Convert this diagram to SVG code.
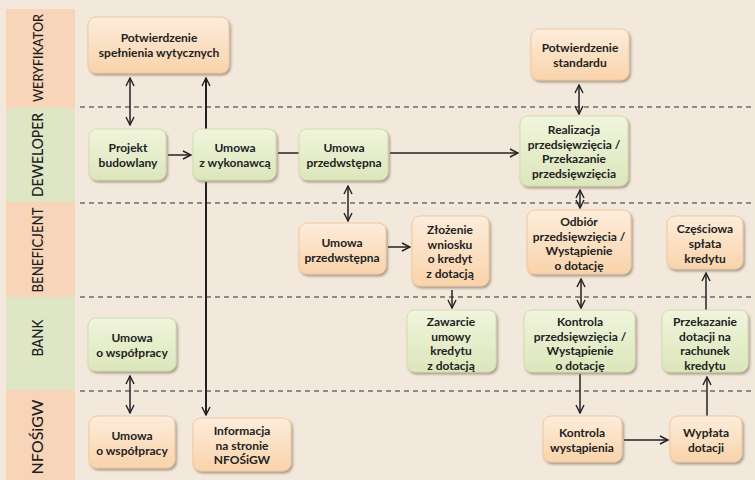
<svg xmlns="http://www.w3.org/2000/svg" width="755" height="480" viewBox="0 0 755 480">
<style>
.lane{font-family:Lato,"Liberation Sans",sans-serif;font-weight:500;font-size:15px;fill:#1e1e1e;text-anchor:middle}
.t{font-family:Lato,"Liberation Sans",sans-serif;font-weight:bold;font-size:12px;fill:#222;text-anchor:middle}
.p{fill:url(#gp);stroke:#efc9a3;stroke-width:1;filter:url(#sh)}
.g{fill:url(#gg);stroke:#d3ddb0;stroke-width:1;filter:url(#sh)}
.dash{stroke:#2a2a2a;stroke-width:1.2;stroke-dasharray:5 4;fill:none}
.c{stroke:#222;stroke-width:1.5;fill:none}
.a{marker-end:url(#ah)}
.d{marker-start:url(#ah);marker-end:url(#ah)}
</style>
<defs>
<linearGradient id="gp" x1="0" y1="0" x2="0" y2="1"><stop offset="0" stop-color="#fdeddb"/><stop offset="1" stop-color="#f9d3ab"/></linearGradient>
<linearGradient id="gg" x1="0" y1="0" x2="0" y2="1"><stop offset="0" stop-color="#f0f5dc"/><stop offset="1" stop-color="#dce6bb"/></linearGradient>
<filter id="sh" x="-10%" y="-10%" width="125%" height="130%"><feDropShadow dx="1.5" dy="2" stdDeviation="1.2" flood-color="#7d6d55" flood-opacity="0.6"/></filter>
<marker id="ah" viewBox="0 0 10 10" refX="9" refY="5" markerWidth="10" markerHeight="10" markerUnits="userSpaceOnUse" orient="auto-start-reverse"><path d="M1,1 L9,5 L1,9" fill="none" stroke="#222" stroke-width="1.4"/></marker>
</defs>
<rect x="0" y="0" width="755" height="480" fill="#f2e8db"/>
<g id="lanes">
<rect x="6" y="9" width="69" height="99" fill="#f8d5b9"/>
<rect x="6" y="108" width="69" height="94" fill="#dfe6c6"/>
<rect x="6" y="202" width="69" height="95" fill="#f8d5b9"/>
<rect x="6" y="297" width="69" height="93" fill="#dfe6c6"/>
<rect x="6" y="390" width="69" height="90" fill="#f8d5b9"/>
<text class="lane" style="font-size:14px" transform="translate(43,58) rotate(-90)" textLength="88" lengthAdjust="spacingAndGlyphs">WERYFIKATOR</text>
<text class="lane" transform="translate(43,155) rotate(-90)" textLength="84" lengthAdjust="spacingAndGlyphs">DEWELOPER</text>
<text class="lane" transform="translate(43,250) rotate(-90)" textLength="85" lengthAdjust="spacingAndGlyphs">BENEFICJENT</text>
<text class="lane" transform="translate(43,338) rotate(-90)" textLength="37" lengthAdjust="spacingAndGlyphs">BANK</text>
<text class="lane" transform="translate(43,437) rotate(-90)" textLength="75" lengthAdjust="spacingAndGlyphs">NFOŚiGW</text>
<line class="dash" x1="80" y1="107" x2="755" y2="107"/>
<line class="dash" x1="80" y1="203" x2="755" y2="203"/>
<line class="dash" x1="80" y1="297" x2="755" y2="297"/>
<line class="dash" x1="80" y1="391" x2="755" y2="391"/>
</g>
<g id="connectors">
<line class="c d" x1="130" y1="78" x2="130" y2="125"/>
<line class="c a" x1="206" y1="130" x2="206" y2="78" style="stroke-width:2"/>
<line class="c a" x1="206" y1="182" x2="206" y2="415" style="stroke-width:2"/>
<line class="c a" x1="168" y1="155" x2="191" y2="155"/>
<line class="c" x1="278" y1="153" x2="299" y2="153"/>
<line class="c a" x1="390" y1="153" x2="518" y2="153"/>
<line class="c d" x1="579" y1="85" x2="579" y2="114"/>
<line class="c d" x1="348" y1="186" x2="348" y2="221"/>
<line class="c a" x1="388" y1="247" x2="410" y2="247"/>
<line class="c d" x1="580" y1="190" x2="580" y2="208"/>
<line class="c a" x1="452" y1="290" x2="452" y2="308"/>
<line class="c d" x1="581" y1="279" x2="581" y2="308"/>
<line class="c a" x1="706" y1="310" x2="706" y2="273"/>
<line class="c d" x1="130" y1="376" x2="130" y2="413"/>
<line class="c a" x1="580" y1="374" x2="580" y2="413"/>
<line class="c a" x1="624" y1="440" x2="668" y2="440"/>
<line class="c a" x1="707" y1="416" x2="707" y2="377"/>
</g>
<g id="n_pot_wyt"><rect class="p" x="88" y="17" width="141" height="56" rx="8"/><text class="t" x="159" y="42">Potwierdzenie</text><text class="t" x="159" y="57">spełnienia wytycznych</text></g>
<g id="n_pot_std"><rect class="p" x="531" y="29" width="98" height="51" rx="8"/><text class="t" x="580" y="52">Potwierdzenie</text><text class="t" x="580" y="67">standardu</text></g>
<g id="n_projekt"><rect class="g" x="89" y="129" width="77" height="51" rx="8"/><text class="t" x="128" y="152">Projekt</text><text class="t" x="128" y="167">budowlany</text></g>
<g id="n_wykon"><rect class="g" x="193" y="129" width="83" height="51" rx="8"/><text class="t" x="235" y="152">Umowa</text><text class="t" x="235" y="167">z wykonawcą</text></g>
<g id="n_przedw_dev"><rect class="g" x="299" y="129" width="89" height="51" rx="8"/><text class="t" x="344" y="152">Umowa</text><text class="t" x="344" y="167">przedwstępna</text></g>
<g id="n_realiz"><rect class="g" x="520" y="116" width="108" height="70" rx="8"/><text class="t" x="574" y="134">Realizacja</text><text class="t" x="574" y="148.5">przedsięwzięcia /</text><text class="t" x="574" y="163">Przekazanie</text><text class="t" x="574" y="177.5">przedsięwzięcia</text></g>
<g id="n_przedw_ben"><rect class="p" x="299" y="223" width="87" height="51" rx="8"/><text class="t" x="342" y="247">Umowa</text><text class="t" x="342" y="262">przedwstępna</text></g>
<g id="n_zloz"><rect class="p" x="412" y="216" width="77" height="70" rx="8"/><text class="t" x="450" y="234">Złożenie</text><text class="t" x="450" y="248.5">wniosku</text><text class="t" x="450" y="263">o kredyt</text><text class="t" x="450" y="277.5">z dotacją</text></g>
<g id="n_odbior"><rect class="p" x="527" y="210" width="104" height="64" rx="8"/><text class="t" x="579" y="226">Odbiór</text><text class="t" x="579" y="240.5">przedsięwzięcia /</text><text class="t" x="579" y="255">Wystąpienie</text><text class="t" x="579" y="269.5">o dotację</text></g>
<g id="n_czesc"><rect class="p" x="667" y="216" width="76" height="53" rx="8"/><text class="t" x="705" y="233">Częściowa</text><text class="t" x="705" y="248">spłata</text><text class="t" x="705" y="263">kredytu</text></g>
<g id="n_zawar"><rect class="g" x="407" y="310" width="89" height="62" rx="8"/><text class="t" x="451" y="326">Zawarcie</text><text class="t" x="451" y="340.5">umowy</text><text class="t" x="451" y="355">kredytu</text><text class="t" x="451" y="369.5">z dotacją</text></g>
<g id="n_kontr_p"><rect class="g" x="524" y="310" width="111" height="62" rx="8"/><text class="t" x="580" y="326">Kontrola</text><text class="t" x="580" y="340.5">przedsięwzięcia /</text><text class="t" x="580" y="355">Wystąpienie</text><text class="t" x="580" y="369.5">o dotację</text></g>
<g id="n_przek"><rect class="g" x="662" y="310" width="86" height="62" rx="8"/><text class="t" x="705" y="326">Przekazanie</text><text class="t" x="705" y="340.5">dotacji na</text><text class="t" x="705" y="355">rachunek</text><text class="t" x="705" y="369.5">kredytu</text></g>
<g id="n_umowa_bank"><rect class="g" x="88" y="318" width="88" height="53" rx="8"/><text class="t" x="132" y="342">Umowa</text><text class="t" x="132" y="357">o współpracy</text></g>
<g id="n_umowa_nfo"><rect class="p" x="89" y="416" width="86" height="52" rx="8"/><text class="t" x="132" y="440">Umowa</text><text class="t" x="132" y="455">o współpracy</text></g>
<g id="n_info"><rect class="p" x="193" y="418" width="98" height="53" rx="8"/><text class="t" x="242" y="435">Informacja</text><text class="t" x="242" y="449.5">na stronie</text><text class="t" x="242" y="464">NFOŚiGW</text></g>
<g id="n_kontr_w"><rect class="p" x="543" y="416" width="79" height="46" rx="8"/><text class="t" x="582" y="437">Kontrola</text><text class="t" x="582" y="451.5">wystąpienia</text></g>
<g id="n_wyplata"><rect class="p" x="670" y="416" width="72" height="46" rx="8"/><text class="t" x="706" y="437">Wypłata</text><text class="t" x="706" y="451.5">dotacji</text></g>
</svg>
